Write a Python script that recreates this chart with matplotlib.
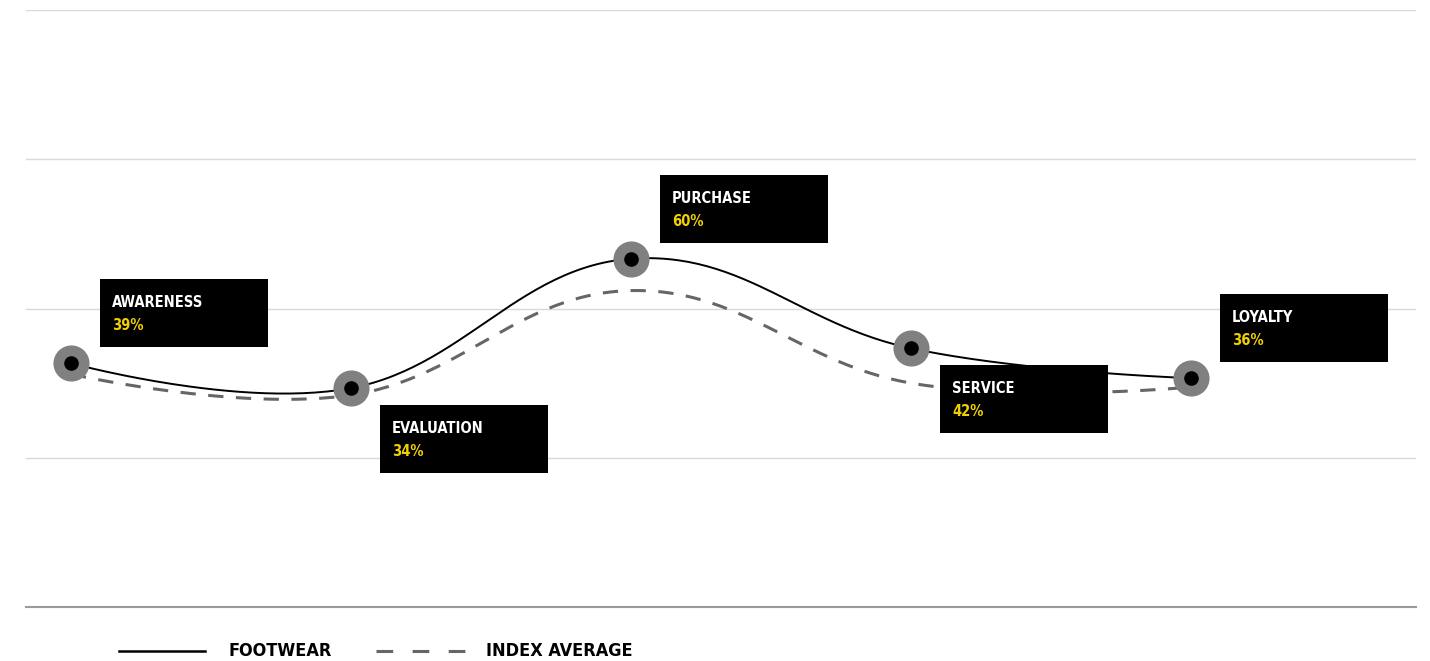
import numpy as np
import matplotlib
matplotlib.use("Agg")
import matplotlib.pyplot as plt
import matplotlib.transforms as mtransforms
from matplotlib.lines import Line2D
from matplotlib.patches import Rectangle

# Etapas del recorrido del cliente
stages = ["AWARENESS", "EVALUATION", "PURCHASE", "SERVICE", "LOYALTY"]
footwear = [39, 34, 60, 42, 36]
index_avg = [36.8, 32.6, 53.6, 35.0, 34.2]
label_above = [True, False, True, False, True]

plt.rcParams["font.family"] = ["DejaVu Sans"]
plt.rcParams["font.stretch"] = "condensed"
plt.rcParams["lines.scale_dashes"] = False


def spline(xs, ys, n=60):
    # curva suave tipo "spline" (puntos de control al 1.5 con corrección de tangente)
    xs = np.asarray(xs, float)
    ys = np.asarray(ys, float)
    k = len(xs)
    lx, ly, rx, ry = xs.copy(), ys.copy(), xs.copy(), ys.copy()
    for i in range(1, k - 1):
        lx[i] = (1.5 * xs[i] + xs[i - 1]) / 2.5
        ly[i] = (1.5 * ys[i] + ys[i - 1]) / 2.5
        rx[i] = (1.5 * xs[i] + xs[i + 1]) / 2.5
        ry[i] = (1.5 * ys[i] + ys[i + 1]) / 2.5
        corr = (ry[i] - ly[i]) * (rx[i] - xs[i]) / (rx[i] - lx[i]) + ys[i] - ry[i]
        ly[i] += corr
        ry[i] += corr
    t = np.linspace(0, 1, n)[:, None]
    out_x, out_y = [], []
    for i in range(k - 1):
        p = np.array([[xs[i], ys[i]], [rx[i], ry[i]], [lx[i + 1], ly[i + 1]], [xs[i + 1], ys[i + 1]]])
        b = ((1 - t) ** 3) * p[0] + 3 * ((1 - t) ** 2) * t * p[1] + 3 * (1 - t) * t ** 2 * p[2] + t ** 3 * p[3]
        out_x.extend(b[:, 0])
        out_y.extend(b[:, 1])
    return np.array(out_x), np.array(out_y)


W, H = 1430, 661
fig = plt.figure(figsize=(W / 100, H / 100), dpi=100)
ax = fig.add_axes([26 / W, (H - 607) / H, (1416 - 26) / W, (607 - 10) / H])
x = np.arange(len(stages))
ax.set_xlim(-45 / 280, 1345 / 280)
ax.set_ylim(-10, 110)

for g in [20, 50, 80, 110]:
    ax.axhline(g, color="#d9d9d9", lw=1, zorder=0)
ax.axhline(-10, color="#9a9a9a", lw=1.5, zorder=0, clip_on=False)

sx, sy = spline(x, index_avg)
ax.plot(sx, sy, color="#666666", lw=2.2, dashes=(11, 9), zorder=2)
sx, sy = spline(x, footwear)
ax.plot(sx, sy, color="black", lw=1.4, zorder=3)

ax.plot(x, footwear, "o", ms=26, color="#808080", mew=0, zorder=4)
ax.plot(x, footwear, "o", ms=10.5, color="black", mew=0, zorder=5)

for s in ax.spines.values():
    s.set_visible(False)
ax.set_xticks([])
ax.set_yticks([])

# cajas negras con etiqueta y porcentaje
ident = mtransforms.IdentityTransform()
for i, (name, v) in enumerate(zip(stages, footwear)):
    px, py = ax.transData.transform((x[i], v))
    left = px + 29
    if label_above[i]:
        bottom = py + 16
    else:
        bottom = py - 17 - 68
    top = bottom + 68
    fig.patches.append(Rectangle((left, bottom), 168, 68, transform=ident,
                                 facecolor="black", edgecolor="none", zorder=6))
    fig.text(left + 12, top - 16, name, transform=ident, color="white",
             fontsize=10.5, fontweight="bold", va="top", ha="left", zorder=7)
    fig.text(left + 12, top - 39, f"{v}%", transform=ident, color="#f0d000",
             fontsize=10.5, fontweight="bold", va="top", ha="left", zorder=7)

# leyenda
fig.add_artist(Line2D([119, 205], [H - 651, H - 651], transform=ident, color="black", lw=1.8))
fig.text(228, H - 651, "FOOTWEAR", transform=ident, fontsize=13, fontweight="bold",
         va="center", ha="left", color="black")
fig.add_artist(Line2D([376, 465], [H - 651, H - 651], transform=ident, color="#666666",
                      lw=2.2, dashes=(12, 14)))
fig.text(486, H - 651, "INDEX AVERAGE", transform=ident, fontsize=13, fontweight="bold",
         va="center", ha="left", color="black")

fig.savefig("out.png", dpi=100)
